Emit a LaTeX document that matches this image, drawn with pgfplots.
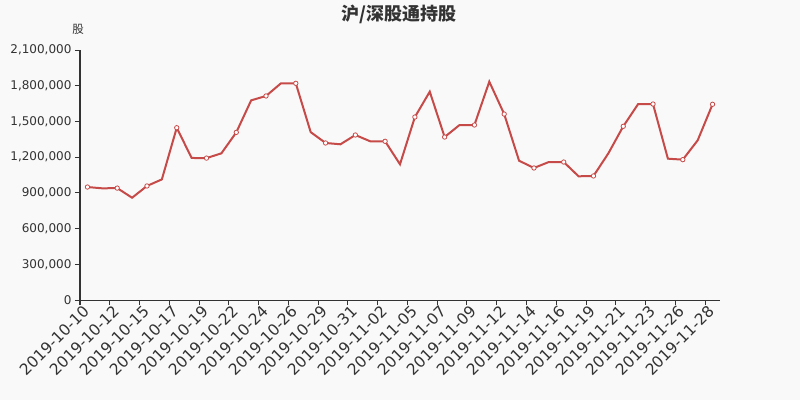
\documentclass[border=0pt]{standalone}
\usepackage{fontspec}
\setmainfont{DejaVu Sans}
\newfontfamily\cjk{Noto Sans CJK SC}
\usepackage{pgfplots}
\usepackage{pgfplotstable}
\pgfplotsset{compat=1.18}
\definecolor{bg}{HTML}{F9F9F9}
\definecolor{ln}{HTML}{C64A48}
\definecolor{ax}{HTML}{333333}

% holdings per day, 43 days (Mon-Sat), index 0 = 2019-10-10
\pgfplotstableread{
idx val
0 949000
1 938000
2 940000
3 859000
4 958000
5 1013000
6 1447000
7 1193000
8 1192000
9 1232000
10 1408000
11 1677000
12 1714000
13 1820000
14 1820000
15 1410000
16 1319000
17 1308000
18 1386000
19 1333000
20 1333000
21 1140000
22 1537000
23 1750000
24 1369000
25 1470000
26 1470000
27 1834000
28 1562000
29 1170000
30 1109000
31 1159000
32 1159000
33 1039000
34 1042000
35 1232000
36 1459000
37 1646000
38 1646000
39 1187000
40 1179000
41 1341000
42 1644000
}\holdings

\begin{document}
\begin{tikzpicture}[x=1pt,y=1pt]
\path[use as bounding box] (0,0) rectangle (800,400);
\fill[bg] (0,0) rectangle (800,400);
\node[font=\cjk\bfseries\fontsize{18}{20}\selectfont, text=ax] at (399,386) {沪/深股通持股};
\node[font=\cjk\fontsize{11.5}{13}\selectfont, text=ax] at (78,371) {股};
\begin{axis}[
    at={(80pt,100pt)}, anchor=south west,
    scale only axis, width=640pt, height=250pt,
    xmin=-0.5, xmax=42.5,
    ymin=0, ymax=2100000,
    ytick={0,300000,...,2100000},
    scaled y ticks=false,
    axis x line*=bottom, axis y line*=left,
    axis line style={ax, line width=1pt},
    tick align=outside, major tick length=5pt,
    tick style={ax, line width=1pt},
    /pgf/number format/assume math mode=true,
    yticklabel style={font=\fontsize{12}{14}\selectfont, text=ax,
        /pgf/number format/fixed, /pgf/number format/1000 sep={,}},
    xtick={-0.5,1.5,...,41.5},
    xticklabels={},
    extra x ticks={0,2,...,42},
    extra x tick labels={2019-10-10,2019-10-12,2019-10-15,2019-10-17,2019-10-19,2019-10-22,2019-10-24,2019-10-26,2019-10-29,2019-10-31,2019-11-02,2019-11-05,2019-11-07,2019-11-09,2019-11-12,2019-11-14,2019-11-16,2019-11-19,2019-11-21,2019-11-23,2019-11-26,2019-11-28},
    extra x tick style={major tick length=0pt},
    xticklabel style={font=\fontsize{15.5}{17}\selectfont, text=ax,
        yshift=-8pt, rotate=45, anchor=east, inner sep=1pt},
    clip=false,
]
\addplot[ln, line width=2pt, mark=*, mark repeat=2, mark phase=1,
    mark size=2.2pt, mark options={fill=white, draw=ln, line width=0.8pt}]
    table[x=idx, y=val] {\holdings};
\end{axis}
\end{tikzpicture}
\end{document}
